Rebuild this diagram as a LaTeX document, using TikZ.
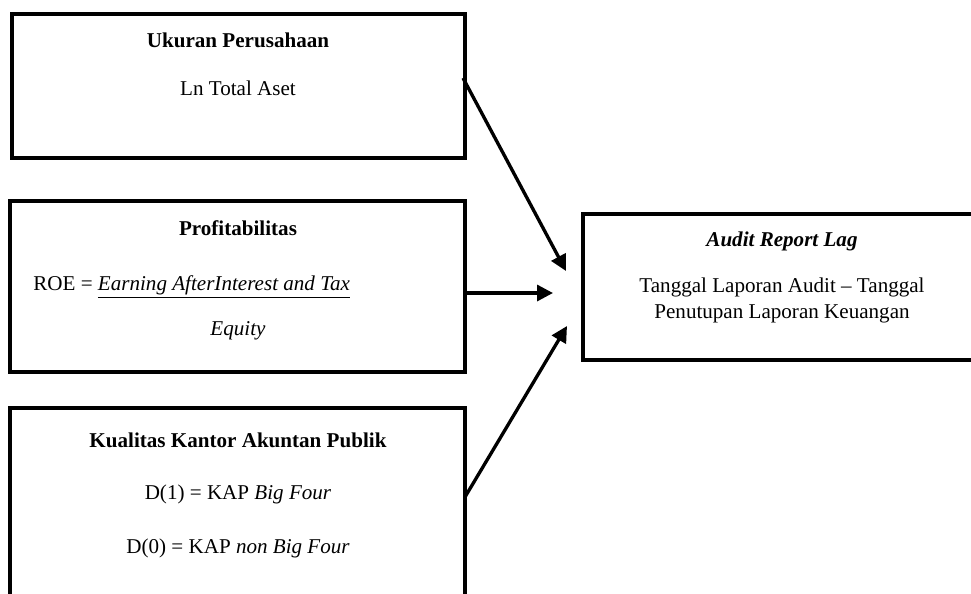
\documentclass[tikz,border=0pt]{standalone}
\usepackage{fontspec}
\setmainfont{Liberation Serif}
\usetikzlibrary{arrows.meta}
\tikzstyle{variabel}=[draw=black, line width=2.2pt, anchor=north west, inner sep=0pt, outer sep=0pt]
\tikzstyle{teks}=[inner sep=0pt, align=center, font=\fontsize{12}{14.8}\selectfont]
\tikzstyle{panah}=[line width=1.9pt, -{Triangle[length=0.32cm, width=0.32cm]}]

\begin{document}
\begin{tikzpicture}[x=0.02cm, y=-0.02cm]
				\useasboundingbox (0,0) rectangle (971,593);
				\clip (0,0) rectangle (971,593);

				\node[variabel, minimum width=9.06cm, minimum height=2.88cm] (ukuran) at (12,14) {};
				\node[variabel, minimum width=9.1cm, minimum height=3.42cm] (profit) at (10,201) {};
				\node[variabel, minimum width=9.1cm, minimum height=4.2cm] (kap) at (10,408) {};
				\node[variabel, minimum width=7.96cm, minimum height=2.92cm] (arl) at (583,214) {};

				\node[teks] (judulukuran) at (238,40) {\textbf{Ukuran Perusahaan}};
				\node[teks] (isiukuran) at (238,88) {Ln Total Aset};
				\node[teks] (judulprofit) at (238,228) {\textbf{Profitabilitas}};
				\node[teks, anchor=west] (roe) at (33,287) {ROE = \underline{\textit{Earning AfterInterest and Tax}}};
				\node[teks] (equity) at (238,331) {\textit{Equity}};
				\node[teks] (judulkap) at (238,440) {\textbf{Kualitas Kantor Akuntan Publik}};
				\node[teks] (dsatu) at (238,494) {D(1) = KAP \textit{Big Four}};
				\node[teks] (dnol) at (238,548) {D(0) = KAP \textit{non Big Four}};
				\node[teks] (judularl) at (782,241) {\textbf{\textit{Audit Report Lag}}};
				\node[teks] (isiarl) at (782,300) {Tanggal Laporan Audit -- Tanggal\\Penutupan Laporan Keuangan};

				\coordinate (A1) at (463,78);
				\coordinate (B1) at (566,271);
				\coordinate (A2) at (465,293);
				\coordinate (B2) at (553,293);
				\coordinate (A3) at (465,497);
				\coordinate (B3) at (567,326);

				\draw[panah] (A1) -- (B1);
				\draw[panah] (A2) -- (B2);
				\draw[panah] (A3) -- (B3);
			\end{tikzpicture}
\end{document}
